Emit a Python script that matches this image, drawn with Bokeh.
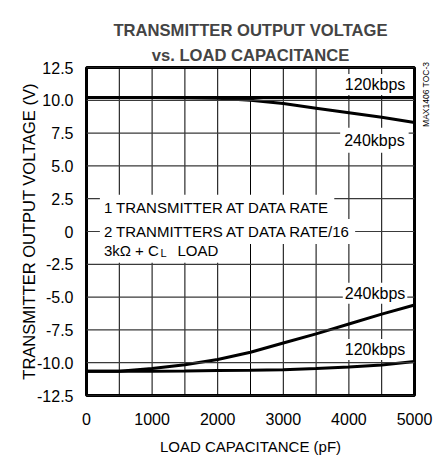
import math
from bokeh.plotting import figure
from bokeh.models import Label, Title, FixedTicker, LinearAxis
from bokeh.embed import file_html
from bokeh.resources import INLINE

# ---- data ----
capacitance_pf = [0, 500, 1000, 1500, 2000, 2500, 3000, 3500, 4000, 4500, 5000]
v_high_120kbps = [10.22, 10.22, 10.22, 10.22, 10.22, 10.22, 10.22, 10.22, 10.22, 10.22, 10.22]
v_high_240kbps = [10.22, 10.22, 10.22, 10.2, 10.15, 10.0, 9.75, 9.4, 9.05, 8.7, 8.3]
v_low_240kbps = [-10.65, -10.65, -10.45, -10.15, -9.75, -9.2, -8.5, -7.8, -7.05, -6.3, -5.6]
v_low_120kbps = [-10.65, -10.65, -10.65, -10.63, -10.6, -10.58, -10.53, -10.45, -10.33, -10.18, -9.9]

x_ticks = [0, 1000, 2000, 3000, 4000, 5000]
x_tick_labels = ["0", "1000", "2000", "3000", "4000", "5000"]
x_grid = [0, 500, 1000, 1500, 2000, 2500, 3000, 3500, 4000, 4500, 5000]
y_ticks = [-12.5, -10.0, -7.5, -5.0, -2.5, 0.0, 2.5, 5.0, 7.5, 10.0, 12.5]
y_tick_labels = ["-12.5", "-10.0", "-7.5", "-5.0", "-2.5", "0", "2.5", "5.0", "7.5", "10.0", "12.5"]

FONT = "Liberation Sans"

p = figure(frame_width=328, frame_height=328,
           min_border_left=86, min_border_right=22, min_border_top=67, min_border_bottom=61,
           x_range=(x_ticks[0], x_ticks[-1]), y_range=(y_ticks[0], y_ticks[-1]),
           output_backend="svg", toolbar_location=None)

p.add_layout(Title(text="vs. LOAD CAPACITANCE", align="center", text_font=FONT,
                   text_font_size="16.6px", text_font_style="bold", standoff=6), "above")
p.add_layout(Title(text="TRANSMITTER OUTPUT VOLTAGE", align="center", text_font=FONT,
                   text_font_size="16.6px", text_font_style="bold", standoff=2), "above")

# axes
for ax in (p.xaxis[0], p.yaxis[0]):
    ax.major_tick_out = 0
    ax.major_tick_in = 0
    ax.minor_tick_out = 0
    ax.minor_tick_in = 0
    ax.axis_line_color = None
    ax.major_label_text_font = FONT
    ax.major_label_text_font_size = "16px"
    ax.major_label_text_color = "black"
    ax.axis_label_text_font = FONT
    ax.axis_label_text_font_style = "normal"
    ax.axis_label_text_color = "black"

p.xaxis.ticker = FixedTicker(ticks=x_ticks)
p.xaxis.major_label_overrides = dict(zip(x_ticks, x_tick_labels))
p.xaxis.major_label_standoff = 17
p.xaxis.axis_label = "LOAD CAPACITANCE (pF)"
p.xaxis.axis_label_text_font_size = "15px"
p.xaxis.axis_label_standoff = 10

p.yaxis.ticker = FixedTicker(ticks=y_ticks)
p.yaxis.major_label_overrides = dict(zip(y_ticks, y_tick_labels))
p.yaxis.major_label_standoff = 13
p.yaxis.axis_label = "TRANSMITTER OUTPUT VOLTAGE (V)"
p.yaxis.axis_label_text_font_size = "16.5px"
p.yaxis.axis_label_standoff = -4

# small figure id on the right side
note_y = 7.97
note_axis = LinearAxis(ticker=FixedTicker(ticks=[note_y]),
                       major_label_overrides={note_y: "MAX1406 TOC-3"},
                       major_label_orientation=math.pi / 2,
                       major_label_text_font=FONT, major_label_text_font_size="8.5px",
                       major_label_text_color="black", major_label_standoff=12,
                       axis_line_color=None, major_tick_out=0, major_tick_in=0,
                       minor_tick_out=0, minor_tick_in=0)
p.add_layout(note_axis, "right")

p.grid.visible = False
p.outline_line_color = "black"
p.outline_line_width = 3
p.outline_line_alpha = 1

# curves
for ys in (v_high_120kbps, v_high_240kbps, v_low_240kbps, v_low_120kbps):
    p.line(capacitance_pf, ys, line_width=3, line_color="black")

# grid lines, each drawn as a path through the grid/tick values (after the curves)
for gx in x_grid:
    p.line([gx] * len(y_ticks), y_ticks, line_color="black", line_width=1)
for gy in y_ticks:
    p.line(x_grid, [gy] * len(x_grid), line_color="#3a3a3a", line_width=1.2)


def lab(x, y, text, align="right", size="16px", bg=True, pad=2):
    kw = dict(background_fill_color="white", background_fill_alpha=1, padding=pad) if bg else {}
    p.add_layout(Label(x=x, y=y, text=text, text_align=align, text_baseline="middle",
                       text_font=FONT, text_font_size=size, text_color="black", **kw))


lab(4890, 11.2, "120kbps")
lab(4911, 6.95, "240kbps", pad=4)
lab(4890, -4.7, "240kbps")
lab(4890, -9.0, "120kbps")

lab(204, 1.85, "1 TRANSMITTER AT DATA RATE", align="left", size="15px", pad=4)
lab(204, 0.0, "2 TRANMITTERS AT DATA RATE/16", align="left", size="15px", pad=4)
lab(204, -1.42, "3kΩ + C", align="left", size="15px", pad=4)
lab(1326, -1.42, "LOAD", align="left", size="15px", pad=4)
lab(1113, -1.65, "L", align="left", size="11px", pad=1)

open("out.html", "w").write(file_html(p, INLINE))
